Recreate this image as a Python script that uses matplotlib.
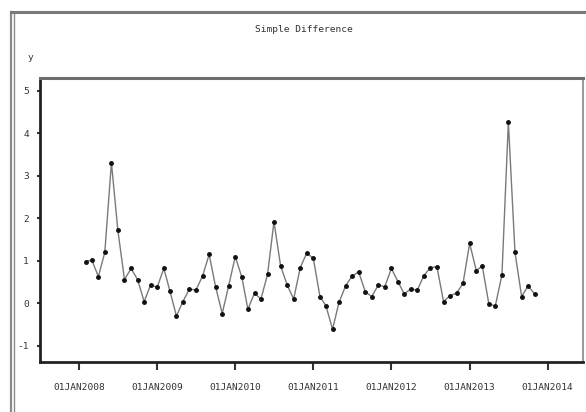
"""Simple Difference - monthly series, SAS style output"""
import matplotlib
matplotlib.use('Agg')
import matplotlib.pyplot as plt
import matplotlib.dates as mdates
import pandas as pd
from matplotlib.lines import Line2D

W, H = 586, 412
DPI = 100
FONT = 'DejaVu Sans Mono'
TEXT_COLOR = '#333333'

TITLE = 'Simple Difference'
START = '2008-02-01'
VALUES = [0.98, 1.02, 0.63, 1.20, 3.31, 1.72, 0.56, 0.82, 0.56, 0.04, 0.43,
          0.38, 0.82, 0.30, -0.30, 0.04, 0.34, 0.31, 0.64, 1.15, 0.39, -0.24, 0.41,
          1.10, 0.61, -0.14, 0.24, 0.10, 0.68, 1.92, 0.88, 0.43, 0.10, 0.84, 1.18,
          1.06, 0.16, -0.06, -0.61, 0.02, 0.41, 0.64, 0.74, 0.27, 0.16, 0.43, 0.39,
          0.82, 0.51, 0.22, 0.34, 0.31, 0.65, 0.84, 0.86, 0.04, 0.18, 0.24, 0.47,
          1.41, 0.77, 0.88, -0.02, -0.06, 0.67, 4.26, 1.20, 0.16, 0.41, 0.22]
YEAR_TICKS = [2008, 2009, 2010, 2011, 2012, 2013, 2014]
X_LABELS = ['01JAN2008', '01JAN2009', '01JAN2010', '01JAN2011',
            '01JAN2012', '01JAN2013', '01JAN2014']
Y_TICKS = [-1, 0, 1, 2, 3, 4, 5]

dates = pd.date_range(START, periods=len(VALUES), freq='MS')

fig = plt.figure(figsize=(W / DPI, H / DPI), dpi=DPI)
ax = fig.add_axes([40 / W, 1 - 362 / H, (583 - 40) / W, (362 - 78) / H])

ax.plot(dates, VALUES, '-', color='#7a7a7a', lw=1.0, zorder=2)
ax.plot(dates, VALUES, 'o', color='#111111', ms=2.5, zorder=3)

ax.set_xlim(pd.Timestamp('2007-07-03'), pd.Timestamp('2014-06-15'))
ax.set_ylim(-1.38, 5.30)

ax.set_xticks([mdates.date2num(pd.Timestamp(f'{y}-01-01')) for y in YEAR_TICKS])
ax.set_xticklabels(X_LABELS, fontfamily=FONT, fontsize=6.8, color=TEXT_COLOR)
ax.set_yticks(Y_TICKS)
ax.set_yticklabels([str(v) for v in Y_TICKS], fontfamily=FONT, fontsize=6.8, color=TEXT_COLOR)
ax.tick_params(axis='x', length=6, width=1.5, color='#333333', pad=9)
ax.tick_params(axis='y', length=2, width=1.5, color='#333333', pad=6)

for side in ('left', 'bottom'):
    ax.spines[side].set_linewidth(2)
    ax.spines[side].set_color('#222222')
ax.spines['top'].set_linewidth(2.2)
ax.spines['top'].set_color('#6e6e6e')
ax.spines['right'].set_linewidth(1.2)
ax.spines['right'].set_color('#888888')

fig.text(304 / W, 1 - 30 / H, TITLE, ha='center', va='center',
         fontfamily=FONT, fontsize=6.8, color=TEXT_COLOR)
fig.text(30 / W, 1 - 58 / H, 'y', ha='center', va='center',
         fontfamily=FONT, fontsize=6.8, color=TEXT_COLOR)

# outer frame of the output window
fig.add_artist(Line2D([11 / W, 11 / W], [0, 1 - 12 / H], transform=fig.transFigure,
                      color='#8a8a8a', lw=1.6))
fig.add_artist(Line2D([14 / W, 14 / W], [0, 1 - 13 / H], transform=fig.transFigure,
                      color='#8a8a8a', lw=1.0))
fig.add_artist(Line2D([11 / W, 1], [1 - 12 / H, 1 - 12 / H], transform=fig.transFigure,
                      color='#7a7a7a', lw=2.2))

fig.savefig('out.png', dpi=DPI)
